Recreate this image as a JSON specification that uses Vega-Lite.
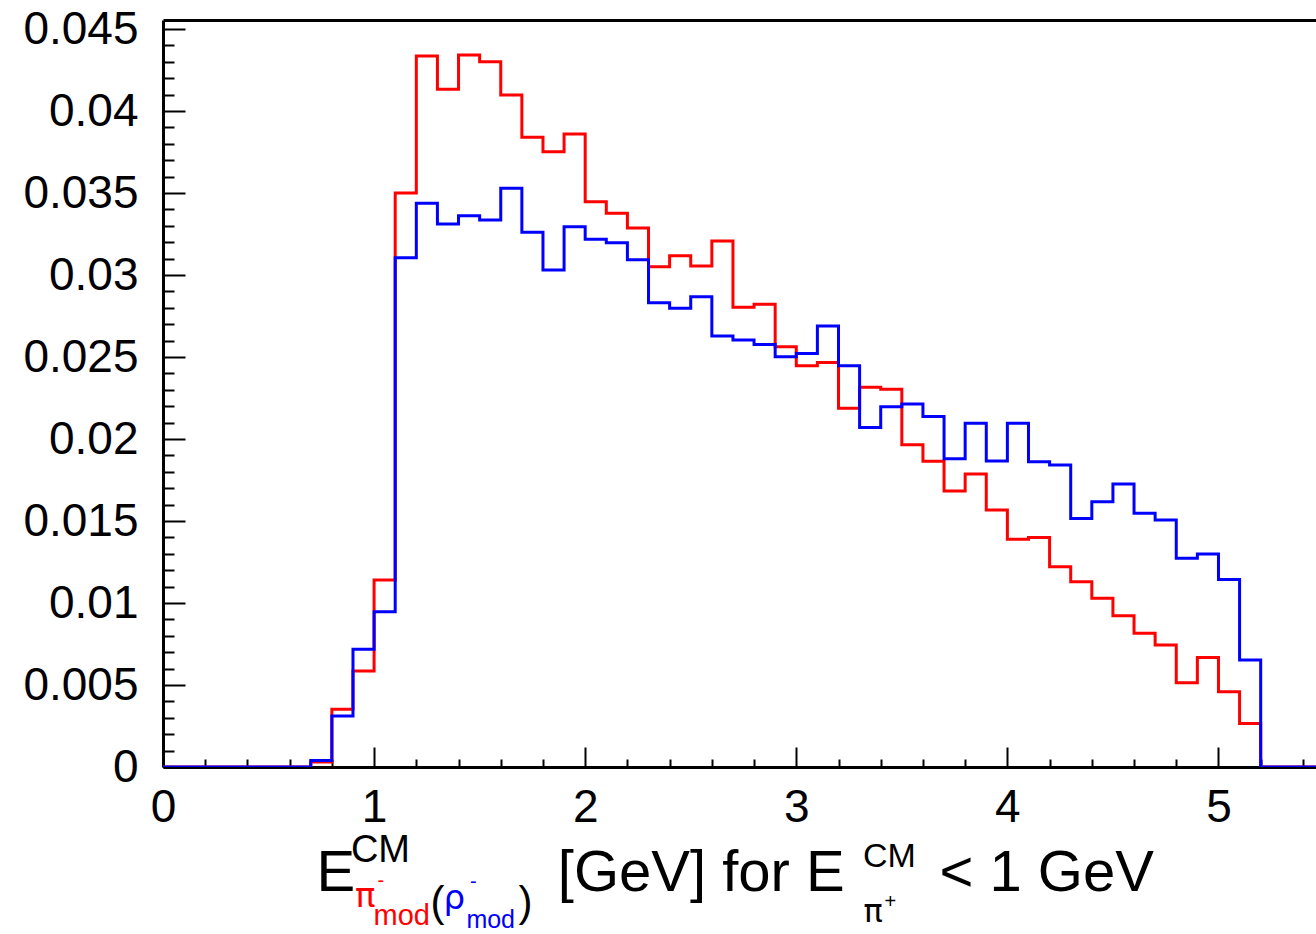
{
  "$schema": "https://vega.github.io/schema/vega-lite/v6.json",
  "width": 1153,
  "height": 747,
  "autosize": {"type": "none"},
  "padding": {"left": 163, "top": 20, "right": 0, "bottom": 167},
  "background": "white",
  "config": {
    "view": {"stroke": null},
    "font": "Liberation Sans",
    "axis": {"grid": false, "domainColor": "black", "tickColor": "black", "labelColor": "black", "labelFont": "Liberation Sans"}
  },
  "datasets": {
    "hist": [
      {"E": 0.0, "pi_mod": 0, "rho_mod": 0},
      {"E": 0.1, "pi_mod": 0, "rho_mod": 0},
      {"E": 0.2, "pi_mod": 0, "rho_mod": 0},
      {"E": 0.3, "pi_mod": 0, "rho_mod": 0},
      {"E": 0.4, "pi_mod": 0, "rho_mod": 0},
      {"E": 0.5, "pi_mod": 0, "rho_mod": 0},
      {"E": 0.6, "pi_mod": 0, "rho_mod": 0},
      {"E": 0.7, "pi_mod": 0.0003, "rho_mod": 0.0004},
      {"E": 0.8, "pi_mod": 0.00352, "rho_mod": 0.00311},
      {"E": 0.9, "pi_mod": 0.00585, "rho_mod": 0.00718},
      {"E": 1.0, "pi_mod": 0.0114, "rho_mod": 0.00947},
      {"E": 1.1, "pi_mod": 0.035, "rho_mod": 0.03106},
      {"E": 1.2, "pi_mod": 0.04335, "rho_mod": 0.03437},
      {"E": 1.3, "pi_mod": 0.04132, "rho_mod": 0.03311},
      {"E": 1.4, "pi_mod": 0.04341, "rho_mod": 0.03362},
      {"E": 1.5, "pi_mod": 0.04301, "rho_mod": 0.03335},
      {"E": 1.6, "pi_mod": 0.04098, "rho_mod": 0.03529},
      {"E": 1.7, "pi_mod": 0.0384, "rho_mod": 0.0326},
      {"E": 1.8, "pi_mod": 0.03752, "rho_mod": 0.0303},
      {"E": 1.9, "pi_mod": 0.0386, "rho_mod": 0.03295},
      {"E": 2.0, "pi_mod": 0.03447, "rho_mod": 0.03218},
      {"E": 2.1, "pi_mod": 0.03376, "rho_mod": 0.03196},
      {"E": 2.2, "pi_mod": 0.03287, "rho_mod": 0.03093},
      {"E": 2.3, "pi_mod": 0.03051, "rho_mod": 0.02831},
      {"E": 2.4, "pi_mod": 0.03118, "rho_mod": 0.02797},
      {"E": 2.5, "pi_mod": 0.03055, "rho_mod": 0.02868},
      {"E": 2.6, "pi_mod": 0.03207, "rho_mod": 0.02628},
      {"E": 2.7, "pi_mod": 0.02803, "rho_mod": 0.02604},
      {"E": 2.8, "pi_mod": 0.02821, "rho_mod": 0.02577},
      {"E": 2.9, "pi_mod": 0.02563, "rho_mod": 0.02502},
      {"E": 3.0, "pi_mod": 0.02447, "rho_mod": 0.02522},
      {"E": 3.1, "pi_mod": 0.02467, "rho_mod": 0.02689},
      {"E": 3.2, "pi_mod": 0.02187, "rho_mod": 0.02447},
      {"E": 3.3, "pi_mod": 0.02315, "rho_mod": 0.0207},
      {"E": 3.4, "pi_mod": 0.02303, "rho_mod": 0.02197},
      {"E": 3.5, "pi_mod": 0.01965, "rho_mod": 0.02213},
      {"E": 3.6, "pi_mod": 0.01864, "rho_mod": 0.02138},
      {"E": 3.7, "pi_mod": 0.01683, "rho_mod": 0.01879},
      {"E": 3.8, "pi_mod": 0.01787, "rho_mod": 0.02096},
      {"E": 3.9, "pi_mod": 0.01567, "rho_mod": 0.01866},
      {"E": 4.0, "pi_mod": 0.01388, "rho_mod": 0.02096},
      {"E": 4.1, "pi_mod": 0.014, "rho_mod": 0.01862},
      {"E": 4.2, "pi_mod": 0.01221, "rho_mod": 0.01841},
      {"E": 4.3, "pi_mod": 0.0113, "rho_mod": 0.01516},
      {"E": 4.4, "pi_mod": 0.01029, "rho_mod": 0.01618},
      {"E": 4.5, "pi_mod": 0.00923, "rho_mod": 0.01726},
      {"E": 4.6, "pi_mod": 0.00815, "rho_mod": 0.01547},
      {"E": 4.7, "pi_mod": 0.00744, "rho_mod": 0.01506},
      {"E": 4.8, "pi_mod": 0.00514, "rho_mod": 0.01273},
      {"E": 4.9, "pi_mod": 0.00667, "rho_mod": 0.01299},
      {"E": 5.0, "pi_mod": 0.00459, "rho_mod": 0.01144},
      {"E": 5.1, "pi_mod": 0.00266, "rho_mod": 0.00652},
      {"E": 5.2, "pi_mod": 0, "rho_mod": 0},
      {"E": 5.3, "pi_mod": 0, "rho_mod": 0},
      {"E": 5.4, "pi_mod": 0, "rho_mod": 0},
      {"E": 5.5, "pi_mod": 0, "rho_mod": 0}
    ]
  },
  "data": {"name": "hist"},
  "resolve": {"axis": {"x": "independent", "y": "independent"}},
  "layer": [
    {
      "mark": {"type": "line", "interpolate": "step-after", "color": "#ff0000", "strokeWidth": 3, "clip": true},
      "encoding": {
        "x": {
          "field": "E", "type": "quantitative",
          "scale": {"domain": [0, 5.462], "nice": false, "zero": false},
          "axis": {"orient": "bottom", "values": [0, 1, 2, 3, 4, 5], "tickSize": -20, "tickWidth": 2, "labelFontSize": 46, "labelPadding": 38, "labelFlush": false, "labelOverlap": false, "domain": true, "domainWidth": 3, "title": null}
        },
        "y": {
          "field": "pi_mod", "type": "quantitative",
          "scale": {"domain": [0, 0.04555], "nice": false, "zero": false},
          "axis": {"orient": "left", "values": [0, 0.005, 0.01, 0.015, 0.02, 0.025, 0.03, 0.035, 0.04, 0.045], "format": "~g", "tickSize": -22, "tickWidth": 2, "labelFontSize": 46, "labelPadding": 47, "labelFlush": false, "labelOverlap": false, "domain": true, "domainWidth": 3, "title": null}
        }
      }
    },
    {
      "mark": {"type": "line", "interpolate": "step-after", "color": "#0000ff", "strokeWidth": 3, "clip": true},
      "encoding": {
        "x": {
          "field": "E", "type": "quantitative",
          "axis": {"orient": "bottom", "values": [0.2, 0.4, 0.6, 0.8, 1.2, 1.4, 1.6, 1.8, 2.2, 2.4, 2.6, 2.8, 3.2, 3.4, 3.6, 3.8, 4.2, 4.4, 4.6, 4.8, 5.2, 5.4], "tickSize": -8, "tickWidth": 2, "labels": false, "domain": false, "title": null}
        },
        "y": {
          "field": "rho_mod", "type": "quantitative",
          "axis": {"orient": "left", "values": [0.001, 0.002, 0.003, 0.004, 0.006, 0.007, 0.008, 0.009, 0.011, 0.012, 0.013, 0.014, 0.016, 0.017, 0.018, 0.019, 0.021, 0.022, 0.023, 0.024, 0.026, 0.027, 0.028, 0.029, 0.031, 0.032, 0.033, 0.034, 0.036, 0.037, 0.038, 0.039, 0.041, 0.042, 0.043, 0.044], "tickSize": -11, "tickWidth": 2, "labels": false, "domain": false, "title": null}
        }
      }
    },
    {
      "data": {"values": [{"t": "E"}]},
      "mark": {"type": "text", "align": "left", "baseline": "alphabetic", "fontSize": 58, "font": "Liberation Sans", "color": "black"},
      "encoding": {
        "x": {"datum": 0.7276, "type": "quantitative", "axis": {"orient": "top", "labels": false, "ticks": false, "domain": true, "domainWidth": 3, "title": null}},
        "y": {"datum": -0.007561, "type": "quantitative", "axis": null},
        "text": {"field": "t"}
      }
    },
    {
      "data": {"values": [{"t": "CM"}]},
      "mark": {"type": "text", "align": "left", "baseline": "alphabetic", "fontSize": 38, "font": "Liberation Sans", "color": "black"},
      "encoding": {
        "x": {"datum": 0.8901, "type": "quantitative", "axis": null},
        "y": {"datum": -0.005793, "type": "quantitative", "axis": null},
        "text": {"field": "t"}
      }
    },
    {
      "data": {"values": [{"t": "π"}]},
      "mark": {"type": "text", "align": "left", "baseline": "alphabetic", "fontSize": 34, "font": "DejaVu Sans", "color": "#ff0000"},
      "encoding": {
        "x": {"datum": 0.9095, "type": "quantitative", "axis": null},
        "y": {"datum": -0.008518, "type": "quantitative", "axis": null},
        "text": {"field": "t"}
      }
    },
    {
      "data": {"values": [{"t": "-"}]},
      "mark": {"type": "text", "align": "left", "baseline": "alphabetic", "fontSize": 20, "font": "Liberation Sans", "color": "#ff0000"},
      "encoding": {
        "x": {"datum": 1.0165, "type": "quantitative", "axis": null},
        "y": {"datum": -0.007341, "type": "quantitative", "axis": null},
        "text": {"field": "t"}
      }
    },
    {
      "data": {"values": [{"t": "mod"}]},
      "mark": {"type": "text", "align": "left", "baseline": "alphabetic", "fontSize": 29, "font": "Liberation Sans", "color": "#ff0000"},
      "encoding": {
        "x": {"datum": 0.9972, "type": "quantitative", "axis": null},
        "y": {"datum": -0.009634, "type": "quantitative", "axis": null},
        "text": {"field": "t"}
      }
    },
    {
      "data": {"values": [{"t": "("}]},
      "mark": {"type": "text", "align": "left", "baseline": "alphabetic", "fontSize": 42, "font": "Liberation Sans", "color": "black"},
      "encoding": {
        "x": {"datum": 1.2671, "type": "quantitative", "axis": null},
        "y": {"datum": -0.009085, "type": "quantitative", "axis": null},
        "text": {"field": "t"}
      }
    },
    {
      "data": {"values": [{"t": "ρ"}]},
      "mark": {"type": "text", "align": "left", "baseline": "alphabetic", "fontSize": 34, "font": "DejaVu Sans", "color": "#0000ff"},
      "encoding": {
        "x": {"datum": 1.3288, "type": "quantitative", "axis": null},
        "y": {"datum": -0.008683, "type": "quantitative", "axis": null},
        "text": {"field": "t"}
      }
    },
    {
      "data": {"values": [{"t": "-"}]},
      "mark": {"type": "text", "align": "left", "baseline": "alphabetic", "fontSize": 20, "font": "Liberation Sans", "color": "#0000ff"},
      "encoding": {
        "x": {"datum": 1.4547, "type": "quantitative", "axis": null},
        "y": {"datum": -0.007402, "type": "quantitative", "axis": null},
        "text": {"field": "t"}
      }
    },
    {
      "data": {"values": [{"t": "mod"}]},
      "mark": {"type": "text", "align": "left", "baseline": "alphabetic", "fontSize": 25, "font": "Liberation Sans", "color": "#0000ff"},
      "encoding": {
        "x": {"datum": 1.4372, "type": "quantitative", "axis": null},
        "y": {"datum": -0.009817, "type": "quantitative", "axis": null},
        "text": {"field": "t"}
      }
    },
    {
      "data": {"values": [{"t": ")"}]},
      "mark": {"type": "text", "align": "left", "baseline": "alphabetic", "fontSize": 42, "font": "Liberation Sans", "color": "black"},
      "encoding": {
        "x": {"datum": 1.6836, "type": "quantitative", "axis": null},
        "y": {"datum": -0.009085, "type": "quantitative", "axis": null},
        "text": {"field": "t"}
      }
    },
    {
      "data": {"values": [{"t": "[GeV] for E"}]},
      "mark": {"type": "text", "align": "left", "baseline": "alphabetic", "fontSize": 58, "font": "Liberation Sans", "color": "black"},
      "encoding": {
        "x": {"datum": 1.8702, "type": "quantitative", "axis": null},
        "y": {"datum": -0.007561, "type": "quantitative", "axis": null},
        "text": {"field": "t"}
      }
    },
    {
      "data": {"values": [{"t": "CM"}]},
      "mark": {"type": "text", "align": "left", "baseline": "alphabetic", "fontSize": 34, "font": "Liberation Sans", "color": "black"},
      "encoding": {
        "x": {"datum": 3.316, "type": "quantitative", "axis": null},
        "y": {"datum": -0.006098, "type": "quantitative", "axis": null},
        "text": {"field": "t"}
      }
    },
    {
      "data": {"values": [{"t": "π"}]},
      "mark": {"type": "text", "align": "left", "baseline": "alphabetic", "fontSize": 32, "font": "DejaVu Sans", "color": "black"},
      "encoding": {
        "x": {"datum": 3.3183, "type": "quantitative", "axis": null},
        "y": {"datum": -0.009451, "type": "quantitative", "axis": null},
        "text": {"field": "t"}
      }
    },
    {
      "data": {"values": [{"t": "+"}]},
      "mark": {"type": "text", "align": "left", "baseline": "alphabetic", "fontSize": 20, "font": "Liberation Sans", "color": "black"},
      "encoding": {
        "x": {"datum": 3.4182, "type": "quantitative", "axis": null},
        "y": {"datum": -0.008598, "type": "quantitative", "axis": null},
        "text": {"field": "t"}
      }
    },
    {
      "data": {"values": [{"t": "< 1 GeV"}]},
      "mark": {"type": "text", "align": "left", "baseline": "alphabetic", "fontSize": 58, "font": "Liberation Sans", "color": "black"},
      "encoding": {
        "x": {"datum": 3.6783, "type": "quantitative", "axis": null},
        "y": {"datum": -0.007561, "type": "quantitative", "axis": null},
        "text": {"field": "t"}
      }
    }
  ]
}
